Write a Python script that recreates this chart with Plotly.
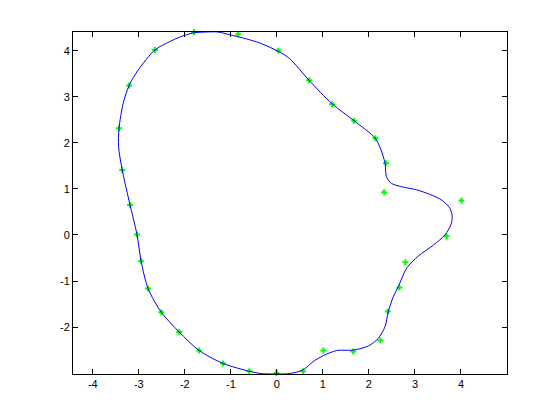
import plotly.graph_objects as go

# Sample points (green markers)
pts_x = [-1.80, -0.84, 0.03, 0.70, 1.20, 1.68, 2.14, 2.37, 2.33, 4.01, 3.69, 2.79,
         2.66, 2.41, 2.25, 1.66, 1.01, 0.57, -0.01, -0.60, -1.17, -1.69, -2.12, -2.51,
         -2.80, -2.95, -3.04, -3.19, -3.36, -3.43, -3.21, -2.65]
pts_y = [4.41, 4.36, 4.00, 3.36, 2.84, 2.48, 2.10, 1.56, 0.93, 0.75, -0.03, -0.59,
         -1.14, -1.66, -2.29, -2.53, -2.51, -2.96, -3.00, -2.96, -2.79, -2.51, -2.11, -1.68,
         -1.16, -0.57, 0.01, 0.65, 1.41, 2.32, 3.25, 4.02]

# Smooth fitted closed curve (blue)
curve_x = [-1.53, -1.28, -1.02, -0.66, -0.37, 0.03, 0.28, 0.70, 1.20, 1.68, 2.14, 2.26,
           2.35, 2.38, 2.49, 2.75, 3.04, 3.33, 3.58, 3.76, 3.81, 3.78, 3.65, 3.40, 3.07,
           2.82, 2.64, 2.53, 2.42, 2.35, 2.20, 1.99, 1.66, 1.30, 1.01, 0.79, 0.57, 0.28,
           0.00, -0.35, -0.60, -1.17, -1.69, -2.12, -2.51, -2.80, -2.95, -3.04, -3.19,
           -3.36, -3.44, -3.43, -3.34, -3.21, -3.01, -2.65, -2.33, -2.11, -1.82, -1.53]
curve_y = [4.41, 4.41, 4.35, 4.26, 4.17, 3.99, 3.83, 3.36, 2.85, 2.48, 2.10, 1.85,
           1.56, 1.27, 1.12, 1.04, 0.98, 0.88, 0.76, 0.58, 0.40, 0.22, 0.00, -0.22, -0.46,
           -0.72, -1.12, -1.34, -1.67, -1.99, -2.25, -2.41, -2.50, -2.51, -2.62, -2.75, -2.93, -3.01,
           -3.02, -3.01, -2.96, -2.79, -2.51, -2.11, -1.68, -1.16, -0.57, 0.01, 0.65,
           1.41, 1.92, 2.32, 2.86, 3.25, 3.59, 4.02, 4.20, 4.30, 4.39, 4.41]

x_ticks = [-4, -3, -2, -1, 0, 1, 2, 3, 4]
y_ticks = [-2, -1, 0, 1, 2, 3, 4]

fig = go.Figure()
fig.add_trace(go.Scatter(x=pts_x, y=pts_y, mode="markers",
                         marker=dict(symbol="cross", size=5, color="#00ff00", line=dict(width=0)),
                         showlegend=False, hoverinfo="skip", cliponaxis=False))
fig.add_trace(go.Scatter(x=curve_x, y=curve_y, mode="lines",
                         line=dict(color="#0000ff", width=1, shape="spline", smoothing=0.8),
                         showlegend=False, hoverinfo="skip"))

axis_common = dict(showgrid=False, zeroline=False, showline=True, linecolor="black",
                   linewidth=1, mirror="ticks", ticks="inside", ticklen=5, tickcolor="black",
                   tickfont=dict(family="Liberation Sans, Arial, sans-serif", size=11, color="black"))
fig.update_layout(
    width=552, height=412,
    margin=dict(l=65, r=53, t=24, b=46),
    paper_bgcolor="white", plot_bgcolor="white",
    xaxis=dict(range=[-4.43, 5.0], tickvals=x_ticks, ticktext=[str(v) for v in x_ticks], **axis_common),
    yaxis=dict(range=[-3.02, 4.41], tickvals=y_ticks, ticktext=[str(v) for v in y_ticks], **axis_common),
)
fig.write_html("out.html")
